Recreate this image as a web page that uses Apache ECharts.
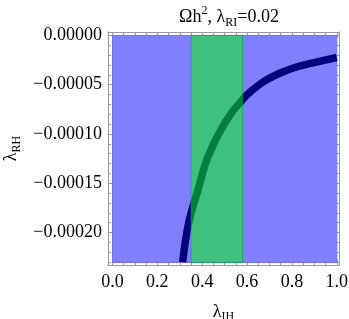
<!DOCTYPE html>
<html>
<head>
<meta charset="utf-8">
<script src="https://cdn.jsdelivr.net/npm/echarts@6/dist/echarts.min.js"></script>
<style>
  html, body { margin: 0; padding: 0; background: #fff; }
  #main { width: 349px; height: 319px; }
</style>
</head>
<body>
<div id="main"></div>
<script>
// data
var xTicks = [0, 0.2, 0.4, 0.6, 0.8, 1.0];
var xMinorTicks = [0, 0.05, 0.1, 0.15, 0.2, 0.25, 0.3, 0.35, 0.4, 0.45, 0.5,
                   0.55, 0.6, 0.65, 0.7, 0.75, 0.8, 0.85, 0.9, 0.95, 1.0];
var yTicks = [0, -0.00005, -0.0001, -0.00015, -0.0002];
var yMinorTicks = [0, -0.00001, -0.00002, -0.00003, -0.00004, -0.00005, -0.00006,
                   -0.00007, -0.00008, -0.00009, -0.0001, -0.00011, -0.00012, -0.00013,
                   -0.00014, -0.00015, -0.00016, -0.00017, -0.00018, -0.00019, -0.0002,
                   -0.00021, -0.00022, -0.00023];

// allowed region (blue) and the relic-density band (green)
var regionX = [0, 1];
var regionY = [-0.0002305, 0];
var bandX = [0.35, 0.58];

// curve lambda_RH vs lambda_IH
var curveX = [0.313, 0.339, 0.381, 0.426, 0.50, 0.582, 0.671, 0.746, 0.82, 0.894, 1.0];
var curveY = [-0.000230, -0.000191, -0.000157, -0.000123, -0.0000891, -0.0000645,
              -0.0000473, -0.0000384, -0.000032, -0.0000279, -0.0000224];

var xMin = -0.02, xMax = 1.01;
var yMin = -0.000233, yMax = 0.0000035;

var FONT = 'Liberation Serif';
var FRAME = '#9a9a9a';

var myChart = echarts.init(document.getElementById('main'));

function rectItem(params, api) {
    var p0 = api.coord([api.value(0), api.value(2)]);
    var p1 = api.coord([api.value(1), api.value(3)]);
    return {
        type: 'rect',
        shape: { x: p0[0], y: p1[1], width: p1[0] - p0[0], height: p0[1] - p1[1] },
        style: api.style()
    };
}

function xAxisOf(pos, values, len, labels) {
    return {
        type: 'value', position: pos, min: xMin, max: xMax,
        axisLine: { show: true, onZero: false, lineStyle: { color: FRAME, width: 1 } },
        axisTick: { show: true, inside: true, length: len, customValues: values,
                    lineStyle: { color: FRAME } },
        axisLabel: labels ? {
            show: true, customValues: values, margin: 8, hideOverlap: false,
            fontFamily: FONT, fontSize: 18, color: '#000',
            formatter: function (v) { return v.toFixed(1); }
        } : { show: false },
        splitLine: { show: false }
    };
}

function yAxisOf(pos, values, len, labels) {
    return {
        type: 'value', position: pos, min: yMin, max: yMax,
        axisLine: { show: true, onZero: false, lineStyle: { color: FRAME, width: 1 } },
        axisTick: { show: true, inside: true, length: len, customValues: values,
                    lineStyle: { color: FRAME } },
        axisLabel: labels ? {
            show: true, customValues: values, margin: 6,
            fontFamily: FONT, fontSize: 18, color: '#000',
            formatter: function (v) {
                var s = Math.abs(v).toFixed(5);
                return v < -1e-12 ? '\u2212' + s : s;
            }
        } : { show: false },
        splitLine: { show: false }
    };
}

var xMain = xAxisOf('bottom', xTicks, 6, true);
xMain.name = '{a|λ}{s|IH}';
xMain.nameLocation = 'middle';
xMain.nameGap = 36;
xMain.nameTextStyle = {
    rich: {
        a: { fontFamily: FONT, fontSize: 18, color: '#000', lineHeight: 22 },
        s: { fontFamily: FONT, fontSize: 12, color: '#000', lineHeight: 12, verticalAlign: 'bottom' }
    }
};

var yMain = yAxisOf('left', yTicks, 6, true);
yMain.name = '{a|λ}{s|RH}';
yMain.nameLocation = 'middle';
yMain.nameGap = 85;
yMain.nameRotate = 90;
yMain.nameTextStyle = {
    rich: {
        a: { fontFamily: FONT, fontSize: 18, color: '#000', lineHeight: 22 },
        s: { fontFamily: FONT, fontSize: 12, color: '#000', lineHeight: 12, verticalAlign: 'bottom' }
    }
};

var option = {
    animation: false,
    backgroundColor: '#fff',
    title: {
        text: '{a|Ωh}{p|2}{a|, λ}{s|RI}{a|=0.02}',
        left: 224, top: 0, textAlign: 'center',
        textStyle: {
            fontWeight: 'normal',
            rich: {
                a: { fontFamily: FONT, fontSize: 18, fontWeight: 'normal', color: '#000', lineHeight: 24 },
                p: { fontFamily: FONT, fontSize: 12, fontWeight: 'normal', color: '#000', lineHeight: 12, verticalAlign: 'top' },
                s: { fontFamily: FONT, fontSize: 12, fontWeight: 'normal', color: '#000', lineHeight: 12, verticalAlign: 'bottom' }
            }
        }
    },
    grid: { left: 108, right: 10, top: 32, bottom: 54, outerBoundsMode: 'none', containLabel: false },
    xAxis: [
        xMain,
        xAxisOf('bottom', xMinorTicks, 3, false),
        xAxisOf('top', xTicks, 6, false),
        xAxisOf('top', xMinorTicks, 3, false)
    ],
    yAxis: [
        yMain,
        yAxisOf('left', yMinorTicks, 3, false),
        yAxisOf('right', yTicks, 6, false),
        yAxisOf('right', yMinorTicks, 3, false)
    ],
    series: [
        {
            name: 'region',
            type: 'custom',
            z: 1,
            renderItem: rectItem,
            itemStyle: { color: '#8080ff', borderColor: '#7070e8', borderWidth: 1 },
            data: [[regionX[0], regionX[1], regionY[0], regionY[1]]]
        },
        {
            name: 'curve',
            type: 'line',
            z: 2,
            smooth: 0.4,
            showSymbol: false,
            lineStyle: { color: '#000080', width: 7.5, cap: 'butt' },
            data: curveX.map(function (x, i) { return [x, curveY[i]]; })
        },
        {
            name: 'band',
            type: 'custom',
            z: 3,
            renderItem: rectItem,
            itemStyle: { color: 'rgba(0,255,0,0.5)', borderColor: 'rgba(0,150,60,0.5)', borderWidth: 1 },
            data: [[bandX[0], bandX[1], regionY[0], regionY[1]]]
        }
    ]
};

myChart.setOption(option);
</script>
</body>
</html>
